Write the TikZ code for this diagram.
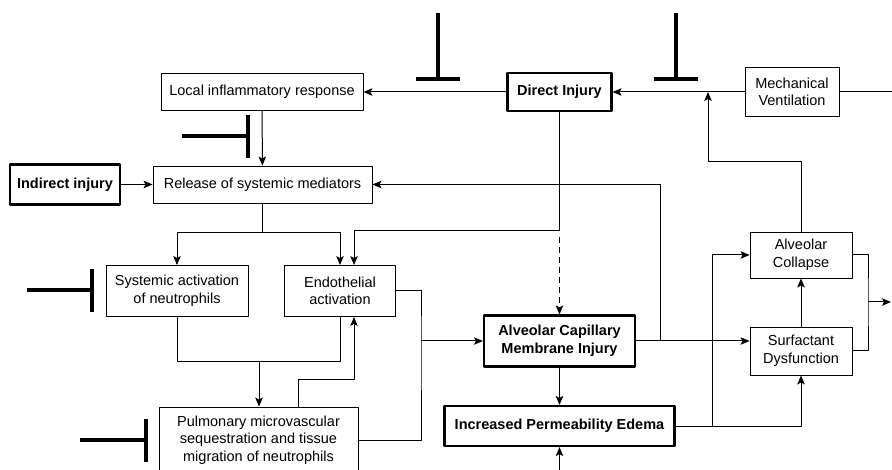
\documentclass[tikz,border=0pt]{standalone}
\usepackage{fontspec}
\setmainfont{Liberation Sans}
\usetikzlibrary{arrows.meta}
\tikzset{
  box/.style={draw,line width=0.9pt,align=center,inner sep=0pt,fill=white},
  bbox/.style={box,line width=2.2pt,font=\fontsize{14.5}{17.5}\selectfont\bfseries},
  inhib/.style={line width=4pt,line cap=butt}
}
\begin{document}
\begin{tikzpicture}[x=1pt,y=-1pt,line join=round,line width=1pt,>={Stealth[length=9pt,width=7.5pt,inset=2pt]},font=\fontsize{14.5}{17.5}\selectfont]
			\useasboundingbox (0,0) rectangle (892,470);
			% boxes
			\node[box,minimum width=202pt,minimum height=37pt] (local) at (262,92) {Local inflammatory response};
			\node[bbox,minimum width=104pt,minimum height=38pt] (direct) at (559.5,92) {Direct Injury};
			\node[box,minimum width=94pt,minimum height=49pt] (mech) at (792,92) {Mechanical\\Ventilation};
			\node[bbox,minimum width=110pt,minimum height=40pt] (indirect) at (65,184.5) {Indirect injury};
			\node[box,minimum width=219pt,minimum height=37pt] (release) at (262.5,184.5) {Release of systemic mediators};
			\node[box,minimum width=142pt,minimum height=51pt] (sysact) at (177,291) {Systemic activation\\of neutrophils};
			\node[box,minimum width=111pt,minimum height=51pt] (endo) at (340,291) {Endothelial\\activation};
			\node[box,minimum width=199pt,minimum height=66pt] (pulm) at (258.5,440) {Pulmonary microvascular\\sequestration and tissue\\migration of neutrophils};
			\node[bbox,minimum width=151pt,minimum height=51pt] (acmi) at (559.5,341) {Alveolar Capillary\\Membrane Injury};
			\node[bbox,minimum width=230pt,minimum height=40pt] (edema) at (559.5,426) {Increased Permeability Edema};
			\node[box,minimum width=102pt,minimum height=46pt] (collapse) at (801,255) {Alveolar\\Collapse};
			\node[box,minimum width=102pt,minimum height=48pt] (surf) at (801,351) {Surfactant\\Dysfunction};
			% free ends and turns
			\coordinate (redge) at (892,92);
			\coordinate (vtop) at (708,92);
			\coordinate (vturn) at (708,162);
			\coordinate (fb) at (660,184.5);
			\coordinate (dturn) at (559.5,231);
			\coordinate (dash0) at (559.5,237);
			\coordinate (rsplit) at (262.5,233);
			\coordinate (nmerge) at (259,362);
			\coordinate (pturn) at (354,380);
			\coordinate (emerge) at (421,341);
			\coordinate (bot) at (559.5,470);
			\coordinate (esplit) at (712,426);
			\coordinate (omerge) at (868,302);
			\coordinate (out) at (891,302);
			% connectors
			\draw[->] (direct) -- (local);
			\draw (mech.east) -- (redge);
			\draw[->] (mech) -- (direct);
			\draw[->] (collapse.north) |- (vturn) -- (vtop);
			\draw[->] (local) -- (release);
			\draw[->] (indirect) -- (release);
			\draw[->] (acmi.east) -- (acmi.east -| surf.west);
			\draw[->] (acmi.east -| fb) -- (fb) -- (release.east);
			\draw[->] (direct.south) -- (dturn) -| ([xshift=14pt]endo.north);
			\draw[->,dashed,dash pattern=on 6pt off 4pt] (dash0) -- (acmi.north);
			\draw (release.south) -- (rsplit);
			\draw[->] (rsplit) -| (sysact.north);
			\draw[->] (rsplit) -| (endo.north);
			\draw (sysact.south) |- (nmerge);
			\draw (endo.south) |- (nmerge);
			\draw[->] (nmerge) -- (pulm.north -| nmerge);
			\draw[->] ([xshift=40pt]pulm.north) |- (pturn) -- ([xshift=14pt]endo.south);
			\draw (endo.east) -| (emerge) |- (pulm.east);
			\draw[->] (emerge) -- (acmi.west);
			\draw[->] (acmi) -- (edema);
			\draw[->] (bot) -- (edema.south);
			\draw (edema.east) -- (esplit);
			\draw[->] (esplit) |- (collapse.west);
			\draw[->] (esplit) -| (surf.south);
			\draw[->] (surf) -- (collapse);
			\draw (collapse.east) -| (omerge) |- (surf.east);
			\draw[->] (omerge) -- (out);
			% inhibitors
			\draw[inhib] (438,13) -- (438,79) (416,79) -- (460,79);
			\draw[inhib] (676,13) -- (676,79) (654,79) -- (698,79);
			\draw[inhib] (182,136) -- (249,136) (248,115) -- (248,158);
			\draw[inhib] (27,290) -- (94,290) (92,269) -- (92,312);
			\draw[inhib] (80,440) -- (147,440) (146,419) -- (146,462);
		\end{tikzpicture}
\end{document}
